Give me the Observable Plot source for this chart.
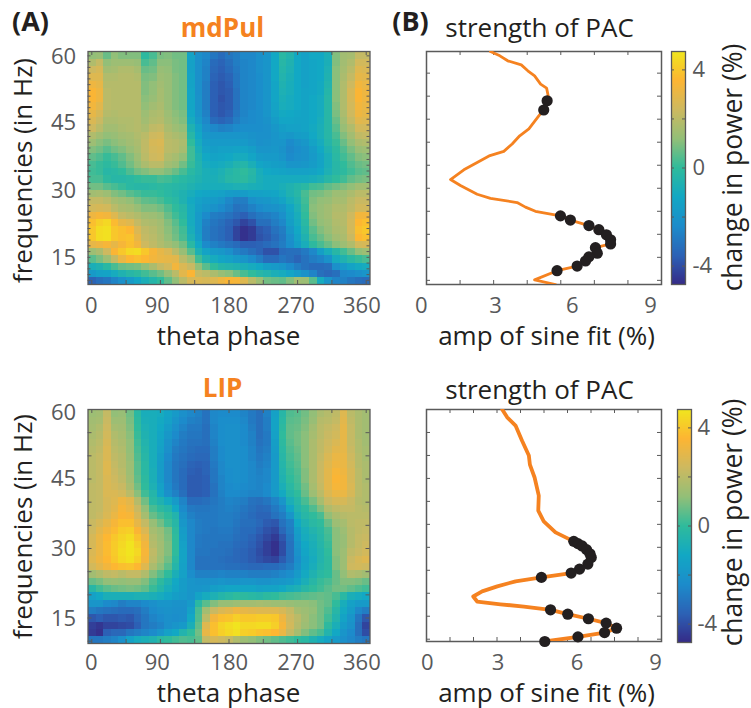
<!DOCTYPE html>
<html><head><meta charset="utf-8">
<script src="https://cdn.jsdelivr.net/npm/d3@7"></script>
<script src="https://cdn.jsdelivr.net/npm/@observablehq/plot@0.6"></script>
<style>
html,body{margin:0;padding:0;background:#fff;overflow:hidden}
#root{position:relative;width:751px;height:708px}
#root svg{position:absolute;background:transparent}
</style></head><body><div id="root"></div>
<script>
// change in power, tenths of a percent; rows 60 Hz -> 10 Hz, columns 0..360 deg
const mdPulPower = [
[12,13,7,12,10,10,10,-1,3,9,10,8,8,-14,-22,-25,-30,-33,-30,-28,-25,-25,-22,-20,-12,-2,-5,-12,-15,-12,-12,-8,10,15,16,22,22],
[18,22,12,14,14,14,13,3,6,11,11,9,8,-15,-22,-26,-33,-35,-32,-28,-26,-25,-22,-20,-12,-3,-6,-12,-15,-13,-12,-8,10,15,18,25,25],
[24,26,15,16,18,18,16,7,8,13,12,9,8,-15,-22,-27,-34,-36,-33,-29,-26,-25,-22,-20,-12,-4,-7,-12,-15,-13,-12,-7,11,16,20,28,27],
[28,28,18,18,19,19,18,9,10,14,13,10,8,-14,-22,-27,-35,-37,-35,-30,-26,-25,-23,-20,-12,-5,-8,-12,-15,-13,-12,-6,11,17,22,30,29],
[32,30,19,19,19,19,19,10,12,15,13,10,8,-14,-22,-28,-36,-38,-36,-30,-26,-25,-23,-20,-13,-6,-9,-12,-15,-13,-11,-5,11,18,24,33,31],
[35,32,20,19,19,19,19,10,12,16,13,10,8,-13,-22,-28,-36,-38,-37,-31,-26,-25,-23,-20,-13,-7,-9,-12,-14,-13,-11,-4,11,18,26,35,32],
[35,32,20,19,19,19,19,11,13,16,13,10,8,-13,-21,-28,-36,-39,-37,-31,-26,-25,-23,-20,-13,-8,-10,-12,-14,-12,-10,-3,11,18,26,35,32],
[33,29,20,19,19,19,19,12,15,17,13,10,8,-13,-21,-28,-36,-38,-37,-31,-26,-25,-23,-20,-14,-9,-10,-12,-14,-12,-10,-3,10,18,25,33,31],
[30,26,19,18,19,19,19,14,17,18,14,11,9,-12,-20,-27,-36,-38,-36,-30,-26,-24,-23,-20,-15,-11,-12,-13,-14,-12,-10,-3,9,17,24,32,30],
[27,23,17,17,18,18,19,15,18,19,15,12,10,-10,-18,-25,-33,-35,-33,-28,-25,-24,-23,-21,-17,-13,-13,-14,-14,-12,-9,-3,7,15,22,29,28],
[24,20,15,15,17,18,19,17,21,22,17,14,12,-6,-14,-22,-25,-27,-26,-24,-23,-23,-23,-22,-19,-16,-15,-15,-14,-11,-8,-3,5,13,18,25,25],
[18,15,12,13,15,16,18,20,24,25,19,17,15,-3,-12,-19,-20,-20,-20,-20,-20,-21,-22,-22,-20,-18,-19,-17,-16,-12,-8,-3,3,10,15,21,22],
[14,11,9,11,13,15,17,21,26,27,20,19,17,0,-10,-17,-18,-18,-18,-18,-18,-20,-22,-21,-20,-20,-24,-21,-19,-14,-10,-4,1,7,12,17,18],
[10,8,5,8,10,13,16,21,25,26,20,19,16,2,-8,-15,-16,-15,-15,-14,-14,-16,-20,-20,-19,-21,-25,-23,-21,-17,-12,-6,-1,4,9,13,14],
[6,4,1,3,6,10,14,20,24,25,18,16,12,2,-6,-12,-14,-13,-12,-10,-10,-13,-17,-18,-18,-20,-24,-22,-21,-18,-14,-8,-2,2,6,10,11],
[3,1,-1,1,4,8,12,17,20,20,15,13,8,1,-5,-10,-11,-10,-8,-5,-4,-8,-13,-15,-16,-17,-20,-20,-19,-17,-14,-8,-3,0,4,7,8],
[2,1,-3,-2,0,4,8,10,12,12,10,7,3,-2,-5,-8,-9,-7,-4,-2,0,-3,-9,-12,-13,-14,-15,-15,-15,-14,-12,-7,-3,-1,2,5,6],
[3,3,-1,-3,-3,-2,0,1,1,3,2,0,-2,-4,-6,-8,-8,-6,-3,-2,-1,-4,-8,-10,-10,-10,-10,-10,-10,-9,-7,-3,0,2,6,8,9],
[8,8,5,3,1,-2,-3,-3,-2,-1,-2,-3,-4,-6,-8,-9,-9,-9,-8,-7,-7,-8,-9,-10,-10,-8,-6,-4,-2,2,3,6,8,10,12,15,15],
[15,16,14,10,8,5,3,1,1,0,-2,-4,-6,-9,-12,-13,-14,-15,-17,-18,-17,-15,-15,-14,-13,-10,-6,-3,3,8,9,11,14,14,17,20,20],
[22,22,20,16,14,12,9,6,5,3,0,-2,-6,-11,-15,-17,-18,-20,-25,-28,-28,-22,-20,-19,-17,-14,-9,-5,2,10,12,13,16,16,20,23,23],
[25,26,25,20,17,16,13,10,10,8,4,0,-3,-10,-16,-19,-21,-24,-27,-31,-30,-27,-24,-22,-21,-19,-13,-7,1,11,13,15,18,18,21,25,25],
[32,34,33,28,22,20,18,15,14,12,7,2,-2,-10,-18,-24,-28,-29,-31,-34,-36,-32,-29,-28,-26,-22,-15,-9,0,10,13,15,19,19,24,33,33],
[38,42,44,37,30,28,22,18,17,15,10,5,0,-10,-18,-27,-30,-32,-35,-38,-42,-39,-32,-32,-28,-25,-16,-10,-2,8,12,14,18,19,25,36,38],
[40,45,46,40,38,36,27,21,19,16,11,7,2,-9,-18,-28,-31,-33,-36,-42,-46,-44,-38,-36,-31,-28,-19,-12,-4,5,10,13,17,18,25,38,40],
[40,45,46,40,38,39,30,22,20,17,12,8,3,-7,-16,-28,-31,-33,-36,-42,-46,-44,-39,-37,-33,-29,-22,-14,-6,3,7,11,15,17,23,36,38],
[30,32,34,30,34,38,33,24,21,18,15,12,8,-2,-12,-24,-27,-29,-31,-33,-36,-36,-35,-33,-31,-28,-23,-16,-9,-1,3,7,11,14,18,25,26],
[14,17,24,35,40,44,45,40,34,30,27,20,13,5,-7,-14,-18,-19,-22,-27,-29,-32,-35,-39,-39,-33,-32,-32,-29,-25,-16,-9,-3,2,7,12,14],
[5,9,14,22,31,36,38,36,33,31,30,29,20,14,2,-6,-10,-13,-15,-18,-20,-24,-28,-33,-33,-30,-32,-35,-31,-28,-26,-21,-10,-6,-2,1,3],
[-8,-6,-2,3,7,8,9,12,17,22,25,33,27,23,12,5,0,-4,-5,-6,-8,-10,-12,-16,-18,-20,-24,-28,-31,-33,-33,-32,-22,-18,-14,-11,-10],
[-18,-15,-14,-10,-6,-3,-1,2,5,8,13,20,29,35,22,20,17,13,11,7,3,0,-3,-5,-8,-10,-13,-17,-21,-26,-32,-34,-32,-25,-24,-22,-20],
[-35,-32,-30,-26,-22,-18,-13,-8,-4,0,6,12,20,26,27,26,28,32,35,34,28,20,14,8,7,6,10,15,14,5,-10,-20,-26,-27,-30,-32,-33]
];
const lipPower = [
[14,15,22,12,13,8,-2,-9,-9,-10,-14,-18,-22,-25,-27,-31,-25,-24,-24,-24,-26,-29,-32,-27,-15,-3,4,5,8,12,17,19,21,28,20,17,15],
[15,16,23,14,14,9,-1,-8,-9,-11,-15,-20,-24,-27,-28,-31,-25,-23,-23,-23,-25,-29,-32,-28,-14,-2,5,6,9,13,19,20,22,29,21,17,15],
[16,18,24,16,15,10,0,-7,-9,-12,-17,-22,-26,-29,-29,-32,-26,-23,-22,-22,-24,-28,-32,-28,-14,-1,6,7,10,15,20,22,24,30,22,17,15],
[17,19,25,18,16,11,1,-6,-9,-13,-19,-24,-28,-30,-30,-32,-26,-23,-22,-22,-24,-27,-32,-29,-15,0,6,8,11,16,20,23,25,30,22,17,15],
[18,20,26,19,17,12,2,-5,-9,-14,-21,-26,-29,-31,-31,-32,-27,-23,-22,-22,-24,-27,-31,-29,-16,-1,5,8,11,17,21,24,27,30,22,18,15],
[19,21,27,20,18,12,3,-4,-9,-15,-22,-28,-30,-32,-33,-33,-28,-24,-22,-22,-23,-26,-30,-28,-17,-2,4,7,11,17,21,25,29,30,23,18,16],
[20,22,27,21,19,13,4,-3,-9,-16,-24,-29,-31,-33,-34,-34,-28,-24,-22,-22,-23,-26,-29,-27,-18,-3,3,6,11,17,22,27,31,31,24,19,16],
[20,22,28,22,19,14,5,-2,-9,-17,-25,-30,-32,-35,-36,-35,-29,-25,-22,-22,-23,-25,-28,-26,-18,-4,2,5,11,17,23,28,32,31,25,19,17],
[20,22,28,23,20,14,5,-2,-8,-17,-25,-30,-33,-36,-37,-35,-30,-25,-23,-22,-23,-25,-27,-25,-18,-5,1,4,10,17,23,29,34,32,26,20,17],
[20,22,27,24,21,15,6,-1,-8,-17,-25,-30,-33,-37,-37,-36,-30,-26,-23,-22,-23,-25,-26,-25,-18,-6,0,3,10,17,23,29,35,33,26,20,17],
[21,22,27,25,23,17,8,0,-7,-15,-24,-29,-33,-37,-37,-36,-31,-26,-24,-23,-24,-25,-26,-24,-18,-8,-2,2,8,16,22,29,34,33,27,20,18],
[21,22,27,27,25,20,11,2,-4,-13,-22,-27,-32,-37,-37,-36,-31,-27,-24,-24,-25,-26,-26,-24,-18,-11,-4,0,7,14,20,27,31,31,26,20,18],
[21,22,26,28,32,29,19,8,-2,-6,-11,-18,-26,-33,-33,-32,-30,-28,-26,-27,-28,-31,-32,-30,-26,-20,-8,-3,3,9,16,23,26,26,23,19,18],
[21,22,26,29,34,31,23,12,3,-1,-4,-12,-24,-29,-30,-30,-29,-28,-27,-28,-30,-32,-34,-33,-29,-25,-13,-5,-1,4,10,18,21,22,22,20,19],
[21,23,27,31,35,34,26,16,7,3,0,-5,-21,-27,-29,-29,-29,-28,-28,-29,-31,-33,-35,-35,-31,-28,-20,-8,-3,0,3,12,17,19,20,20,20],
[23,26,30,34,38,38,30,22,13,8,2,-3,-19,-25,-28,-29,-29,-28,-28,-30,-32,-32,-34,-37,-38,-31,-27,-12,-6,-2,0,7,14,16,20,21,21],
[24,29,33,37,41,42,35,27,16,13,8,-1,-17,-25,-28,-29,-30,-29,-29,-31,-33,-33,-36,-39,-41,-34,-28,-16,-9,-5,-2,3,11,14,19,21,22],
[26,31,36,40,43,45,39,31,18,14,9,0,-16,-25,-29,-30,-30,-30,-30,-32,-33,-35,-38,-41,-44,-38,-30,-18,-10,-7,-3,2,11,13,19,22,23],
[26,31,37,41,44,47,42,33,19,15,10,0,-15,-25,-29,-30,-30,-31,-31,-33,-34,-36,-39,-43,-46,-40,-31,-20,-12,-8,-4,1,11,13,19,22,24],
[27,31,37,41,45,47,44,34,21,15,10,0,-14,-25,-30,-30,-31,-31,-32,-34,-35,-37,-40,-43,-46,-40,-31,-21,-13,-9,-5,0,11,14,21,23,25],
[28,32,36,40,44,46,42,33,20,14,8,-2,-14,-25,-31,-31,-31,-32,-33,-34,-35,-37,-39,-41,-42,-37,-31,-23,-15,-10,-5,-1,10,14,23,26,28],
[25,29,33,36,38,39,36,28,17,11,5,-4,-15,-25,-31,-31,-31,-31,-32,-32,-33,-34,-34,-33,-33,-31,-28,-21,-14,-9,-4,-1,10,14,24,25,24],
[15,18,21,22,20,22,22,18,10,5,0,-8,-15,-23,-27,-27,-27,-26,-27,-27,-27,-28,-28,-28,-27,-25,-23,-18,-11,-6,-2,0,7,12,18,17,15],
[7,9,12,13,12,13,13,10,4,-1,-6,-12,-17,-20,-21,-21,-21,-20,-21,-21,-20,-20,-21,-21,-20,-19,-18,-14,-8,-3,1,3,7,10,10,9,7],
[-3,2,5,7,8,9,8,6,1,-4,-9,-13,-17,-20,-20,-19,-16,-15,-13,-13,-13,-13,-15,-14,-14,-12,-9,-7,-3,0,2,5,8,8,6,4,2],
[-15,-12,-8,-8,-8,-8,-7,-7,-8,-10,-13,-16,-18,-20,-14,-10,-7,-4,-2,0,-1,-2,-3,-1,0,2,3,4,5,6,7,6,3,-2,-8,-10,-12],
[-20,-20,-24,-25,-28,-26,-26,-24,-22,-20,-20,-21,-21,-18,-2,5,10,13,13,14,15,15,16,15,14,14,13,12,12,11,8,6,0,-9,-15,-18,-18],
[-28,-30,-31,-32,-33,-33,-32,-28,-24,-22,-21,-22,-22,-15,3,15,23,27,29,32,30,29,28,28,28,26,22,16,14,12,8,4,-3,-11,-17,-25,-28],
[-38,-36,-38,-38,-37,-38,-34,-30,-26,-24,-22,-23,-22,-12,4,20,33,38,39,42,40,40,41,41,40,32,24,20,15,11,8,2,-5,-14,-20,-30,-38],
[-43,-45,-42,-42,-41,-40,-36,-30,-28,-26,-22,-20,-18,-8,6,28,38,43,45,47,44,44,45,45,42,34,25,19,14,11,8,-1,-8,-17,-21,-32,-42],
[-44,-46,-36,-34,-34,-30,-28,-26,-24,-20,-15,-12,-5,0,8,30,38,42,44,46,42,41,39,38,36,31,22,16,10,6,3,-5,-12,-20,-24,-32,-40],
[-30,-30,-28,-26,-22,-15,-10,-8,-6,-2,0,2,4,3,6,22,26,24,22,18,14,12,10,8,6,4,2,0,-2,-6,-10,-14,-18,-22,-25,-28,-30]
];
// strength of PAC curves
const mdPulAmp = [2.45,2.81,3.11,3.63,3.88,4.14,4.37,4.60,4.66,4.62,4.49,4.30,3.92,3.57,3.28,2.96,2.43,1.94,1.43,0.92,1.30,1.94,2.45,3.47,3.79,4.17,5.13,5.51,6.22,6.60,6.89,7.05,7.05,6.47,6.54,6.22,6.09,5.77,5.00,4.14,4.94];
const mdPulFreq = [59.7,58.76,57.68,56.8,55.5,54.4,52.6,51.75,50.1,49,47,45.7,42.9,41.4,39.6,38,37.1,35.6,34,31.9,30.6,28.7,27.8,26.9,25.9,25,24,23.1,21.9,21,19.9,18.8,17.9,17.1,15.9,15.1,14.2,13.1,12.1,10.1,9.1];
const mdPulSigAmp = [4.62,4.49,5.13,5.51,6.22,6.60,6.89,7.05,7.05,6.47,6.54,6.22,6.09,5.77,5.00];
const mdPulSigFreq = [49,47,24,23.1,21.9,21,19.9,18.8,17.9,17.1,15.9,15.1,14.2,13.1,12.1];
const lipAmp = [2.90,3.09,3.41,3.66,3.92,3.96,4.14,4.30,4.28,4.49,4.94,5.64,5.96,6.18,6.31,6.18,5.86,5.54,4.40,3.41,2.71,2.13,1.79,1.94,2.83,3.73,4.75,5.41,6.20,6.88,7.28,6.82,5.80,4.53];
const lipFreq = [60,58.3,56.5,53.2,50,48,45.2,41.25,38,35.65,33.25,31.3,30.35,29.25,27.8,26.35,25.25,24.4,23.45,22.6,21.5,20.4,19.3,18.2,17.6,17.1,16.4,15.45,14.45,13.5,12.4,11.45,10.5,9.5];
const lipSigAmp = [5.64,5.80,5.96,6.13,6.26,6.31,6.18,5.86,5.54,4.40,4.75,5.41,6.20,6.88,7.28,6.82,5.80,4.53];
const lipSigFreq = [31.3,30.8,30.3,29.5,28.6,27.8,26.35,25.25,24.4,23.45,16.4,15.45,14.45,13.5,12.4,11.45,10.5,9.5];
const phaseLabels = [0,90,180,270,360];
const freqLabels = [60,45,30,15];
const ampLabels = [0,3,6,9];
const powerLabels = [4,0,-4];
const parula = ["#352a87","#2c62b6","#1c8ccb","#12a8c4","#2fbb9c","#92bf78","#cdb960","#fdb533","#f0e61e"];

const FONT = "'Open Sans', sans-serif";
const INK = "#231f20", GREY = "#58595b", FRAME = "#5a5a5a", ORANGE = "#f58220";
const colorScale = {type:"linear", domain:d3.quantize(d3.interpolate(-4.75,4.75),parula.length), range:parula, interpolate:"rgb"};
const root = document.getElementById("root");
function place(svg,l,t){svg.style.left=l+"px";svg.style.top=t+"px";root.append(svg);}
// a line of text at a page-relative spot inside a plot
function label(str,px,py,f,o={}){
  return Plot.text([str],{text:d=>d,frameAnchor:"top-left",dx:px-f.left,dy:py-f.top,
    fontSize:o.size??26,fill:o.fill??INK,fontWeight:o.weight??400,fontFamily:FONT,
    textAnchor:"middle",rotate:o.rotate??0,lineAnchor:"middle"});
}
function ticks4(xs,ys,W,H,lenX=4,lenY=4){
  const st={stroke:FRAME,strokeWidth:1};
  return [
    Plot.ruleX(xs,{x:d=>d,insetBottom:H-lenX,...st}),
    Plot.ruleX(xs,{x:d=>d,insetTop:H-lenX,...st}),
    Plot.ruleY(ys,{y:d=>d,insetRight:W-lenY,...st}),
    Plot.ruleY(ys,{y:d=>d,insetLeft:W-lenY,...st}),
  ];
}
function heat(cfg){
  const f=cfg.frame, W=f.right-f.left, H=f.bottom-f.top;
  const svg=Plot.plot({
    width:cfg.w,height:cfg.h,
    marginLeft:f.left-cfg.l,marginRight:cfg.l+cfg.w-f.right,marginTop:f.top-cfg.t,marginBottom:cfg.t+cfg.h-f.bottom,
    x:{domain:[-5,365],axis:null},y:{domain:cfg.yDomain,axis:null},color:colorScale,
    style:{background:"transparent"},
    marks:[
      Plot.raster(cfg.values.flat().map(v=>v/10),{width:37,height:32,x1:-5,x2:365,y1:cfg.yDomain[1],y2:cfg.yDomain[0],imageRendering:"pixelated"}),
      ...ticks4(d3.range(0,361,45),cfg.yTicks,W,H,4,cfg.yLen),
      Plot.frame({stroke:FRAME,strokeWidth:1.3}),
      Plot.text(phaseLabels,{x:d=>cfg.phasePos[d],frameAnchor:"bottom",dy:cfg.xLabelY-f.bottom,text:d=>d,fontSize:22,fill:GREY,fontFamily:FONT,lineAnchor:"middle"}),
      Plot.text(freqLabels,{y:d=>cfg.freqPos[d],frameAnchor:"left",dx:-24.5,text:d=>d,fontSize:22,fill:GREY,fontFamily:FONT,textAnchor:"middle"}),
      ...cfg.labels(f)
    ]
  });
  place(svg,cfg.l,cfg.t);
}
function pac(cfg){
  const f=cfg.frame, W=f.right-f.left, H=f.bottom-f.top;
  const svg=Plot.plot({
    width:cfg.w,height:cfg.h,
    marginLeft:f.left-cfg.l,marginRight:cfg.l+cfg.w-f.right,marginTop:f.top-cfg.t,marginBottom:cfg.t+cfg.h-f.bottom,
    x:{domain:[0,9],axis:null},y:{domain:cfg.yDomain,axis:null},
    style:{background:"transparent"},
    marks:[
      ...ticks4(cfg.xTicks,d3.range(10,60,5),W,H),
      Plot.frame({stroke:FRAME,strokeWidth:1.5}),
      Plot.line(cfg.amp,{x:d=>d,y:(d,i)=>cfg.freq[i],stroke:ORANGE,strokeWidth:cfg.sw,curve:"linear",clip:true}),
      Plot.dot(cfg.sigAmp,{x:d=>d,y:(d,i)=>cfg.sigFreq[i],r:cfg.r,fill:INK,stroke:"none",clip:false}),
      Plot.text(ampLabels,{x:d=>cfg.ampPos[d],frameAnchor:"bottom",dy:cfg.xLabelY-f.bottom,text:d=>d,fontSize:22,fill:GREY,fontFamily:FONT,lineAnchor:"middle"}),
      ...cfg.labels(f)
    ]
  });
  place(svg,cfg.l,cfg.t);
}
function cbar(cfg){
  const f=cfg.frame;
  const svg=Plot.plot({
    width:cfg.w,height:cfg.h,
    marginLeft:f.left-cfg.l,marginRight:cfg.l+cfg.w-f.right,marginTop:f.top-cfg.t,marginBottom:cfg.t+cfg.h-f.bottom,
    x:{domain:[0,1],axis:null},y:{domain:[-4.75,4.75],axis:null},color:colorScale,
    style:{background:"transparent"},
    marks:[
      Plot.raster({x1:0,x2:1,y1:4.75,y2:-4.75,fill:(x,y)=>y,pixelSize:1}),
      Plot.ruleY([-4,-2,0,2,4],{y:d=>d,insetRight:f.right-f.left-3,stroke:FRAME}),
      Plot.ruleY([-4,-2,0,2,4],{y:d=>d,insetLeft:f.right-f.left-3,stroke:FRAME}),
      Plot.frame({stroke:FRAME,strokeWidth:1.3}),
      Plot.text(powerLabels,{y:d=>d,frameAnchor:"right",dx:cfg.dx,text:d=>d===-4?"-4":String(d),fontSize:22,fill:GREY,fontFamily:FONT,textAnchor:"start"}),
      label("change in power (%)",cfg.tx,cfg.ty,f,{rotate:-90,size:26.4})
    ]
  });
  place(svg,cfg.l,cfg.t);
}
const phasePosTop={0:-0.8,90:85.8,180:180.3,270:268,360:354.3};
heat({l:0,t:0,w:385,h:358,frame:{left:87.5,right:369.5,top:51,bottom:284},yDomain:[9.1,59.7],
  yTicks:d3.range(10,60,1.25),yLen:3,values:mdPulPower,xLabelY:305,phasePos:phasePosTop,
  freqPos:{60:58.5,45:44.2,30:29.5,15:14.8},
  labels:f=>[
    label("(A)",30,22,f,{size:27,weight:700}),
    label("mdPul",222,28,f,{size:26,weight:700,fill:ORANGE}),
    label("theta phase",228,336,f),
    label("frequencies (in Hz)",23,170,f,{rotate:-90,size:26})
  ]});
heat({l:0,t:358,w:385,h:350,frame:{left:87.5,right:369.5,top:409,bottom:643},yDomain:[9.5,60],
  yTicks:d3.range(10,60,5),yLen:4,values:lipPower,xLabelY:662,phasePos:phasePosTop,
  freqPos:{60:59.3,45:45,30:29.9,15:14.8},
  labels:f=>[
    label("LIP",222,388,f,{size:26,weight:700,fill:ORANGE}),
    label("theta phase",228,693,f),
    label("frequencies (in Hz)",23,526,f,{rotate:-90,size:26})
  ]});
pac({l:385,t:0,w:280,h:358,frame:{left:426,right:661,top:51,bottom:284},yDomain:[9.1,59.7],
  amp:mdPulAmp,freq:mdPulFreq,sigAmp:mdPulSigAmp,sigFreq:mdPulSigFreq,sw:2.8,r:5.6,
  xTicks:d3.range(8).map(i=>i*9/7),xLabelY:305,ampPos:{0:-0.2,3:2.64,6:5.58,9:8.58},
  labels:f=>[
    label("(B)",410,22,f,{size:27,weight:700}),
    label("strength of PAC",539,28,f),
    label("amp of sine fit (%)",546,336,f)
  ]});
pac({l:385,t:358,w:280,h:350,frame:{left:426,right:661,top:409,bottom:641},yDomain:[9.5,60],
  amp:lipAmp,freq:lipFreq,sigAmp:lipSigAmp,sigFreq:lipSigFreq,sw:3.8,r:5.6,
  xTicks:d3.range(11).map(i=>i*0.9),xLabelY:662,ampPos:{0:0.03,3:2.74,6:5.77,9:8.77},
  labels:f=>[
    label("strength of PAC",539,390,f),
    label("amp of sine fit (%)",546,693,f)
  ]});
cbar({l:665,t:0,w:86,h:358,frame:{left:671,right:685,top:51,bottom:284},dx:7,tx:733,ty:167});
cbar({l:665,t:358,w:86,h:350,frame:{left:677,right:691,top:409,bottom:642},dx:6,tx:733,ty:522});
</script></body></html>
